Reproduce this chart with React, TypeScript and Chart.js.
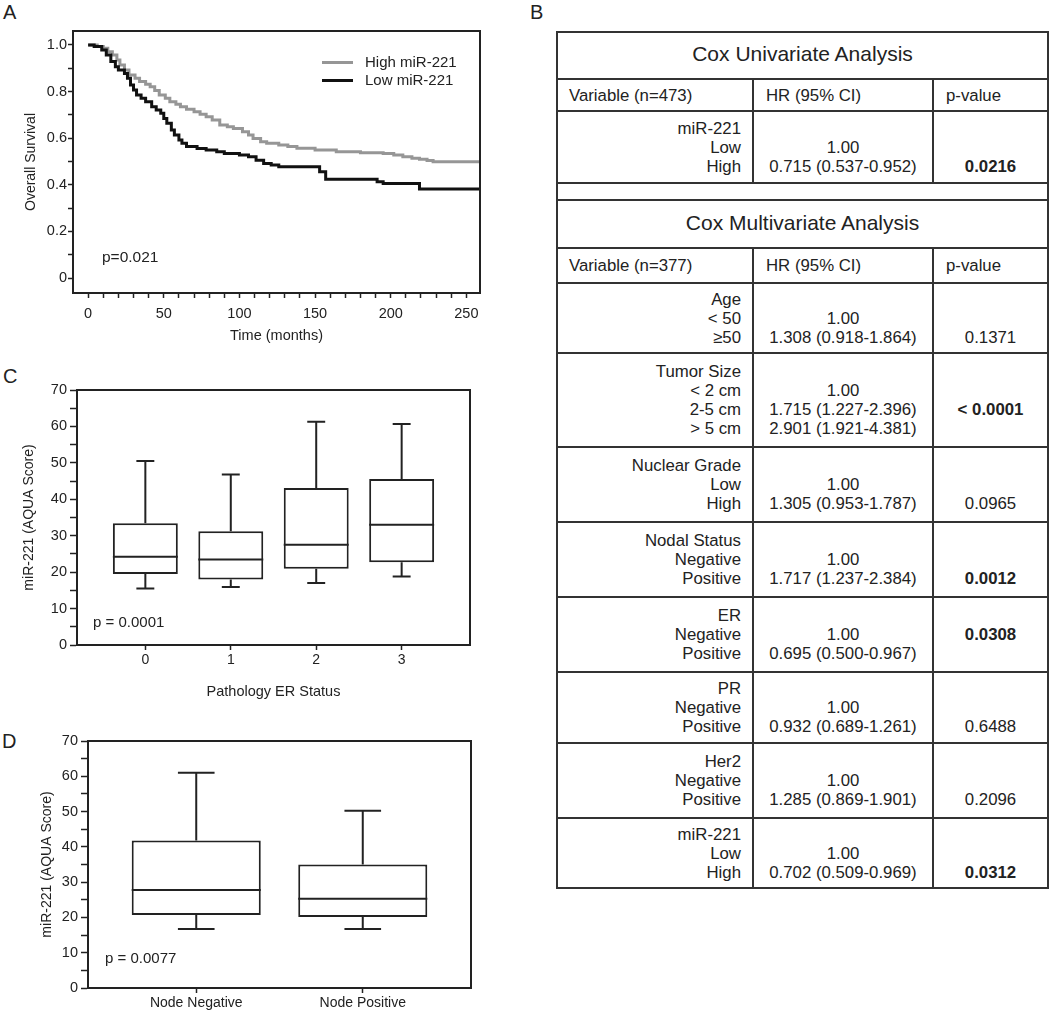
import React, { useEffect, useRef } from 'react';
import { Chart, registerables } from 'chart.js';
Chart.register(...registerables);

const FONT = '"Liberation Sans", Arial, Helvetica, sans-serif';
const INK = '#222';
Chart.defaults.font.family = FONT;

// ---------- Panel A: Kaplan-Meier ----------
const kmSeriesLabels = ['High miR-221', 'Low miR-221'];
const kmHighTime = [0, 6, 10, 13, 16, 19, 21, 24, 27, 31, 34, 38, 41, 44, 47, 51, 54, 58, 61, 65, 70, 74, 78, 82, 87, 92, 96, 102, 106, 109, 114, 118, 126, 132, 138, 150, 164, 180, 195, 202, 208, 214, 219, 224, 228, 259];
const kmHighSurvival = [1.0, 0.993, 0.986, 0.971, 0.957, 0.936, 0.914, 0.893, 0.871, 0.857, 0.843, 0.832, 0.821, 0.805, 0.785, 0.771, 0.757, 0.746, 0.735, 0.724, 0.714, 0.703, 0.692, 0.678, 0.657, 0.649, 0.642, 0.628, 0.614, 0.599, 0.585, 0.578, 0.571, 0.564, 0.557, 0.549, 0.542, 0.538, 0.535, 0.528, 0.521, 0.514, 0.51, 0.504, 0.499, 0.499];
const kmLowTime = [0, 4, 9, 12, 15, 18, 20, 24, 26, 28, 30, 32, 35, 38, 42, 45, 48, 50, 52, 55, 57, 60, 62, 65, 72, 78, 85, 90, 100, 106, 111, 116, 121, 126, 153, 157, 191, 195, 219, 259];
const kmLowSurvival = [1.0, 0.993, 0.979, 0.957, 0.929, 0.907, 0.893, 0.878, 0.857, 0.828, 0.807, 0.785, 0.771, 0.757, 0.735, 0.721, 0.707, 0.685, 0.664, 0.635, 0.614, 0.592, 0.578, 0.564, 0.556, 0.549, 0.542, 0.535, 0.528, 0.521, 0.506, 0.492, 0.485, 0.478, 0.456, 0.424, 0.413, 0.406, 0.382, 0.382];
const kmXTicks = [0, 10, 20, 30, 40, 50, 60, 70, 80, 90, 100, 110, 120, 130, 140, 150, 160, 170, 180, 190, 200, 210, 220, 230, 240, 250];
const kmYTicks = [0, 0.1, 0.2, 0.3, 0.4, 0.5, 0.6, 0.7, 0.8, 0.9, 1.0];
const kmPValue = 'p=0.021';

// ---------- Panel C: ER status box plot ----------
const erCategories = ['0', '1', '2', '3'];
const erWhiskerLow = [15.5, 15.9, 17.0, 18.8];
const erQ1 = [19.5, 18.0, 20.9, 22.7];
const erMedian = [24.2, 23.5, 27.5, 33.0];
const erQ3 = [33.4, 31.2, 43.1, 45.6];
const erWhiskerHigh = [50.5, 46.8, 61.3, 60.7];
const erPValue = 'p = 0.0001';

// ---------- Panel D: Node status box plot ----------
const nodeCategories = ['Node Negative', 'Node Positive'];
const nodeWhiskerLow = [16.7, 16.7];
const nodeQ1 = [20.7, 20.1];
const nodeMedian = [27.8, 25.3];
const nodeQ3 = [41.8, 35.0];
const nodeWhiskerHigh = [61.0, 50.2];
const nodePValue = 'p = 0.0077';
const boxYTicks = [0, 5, 10, 15, 20, 25, 30, 35, 40, 45, 50, 55, 60, 65, 70];

// ---------- Panel B: Cox tables ----------
const uniTitle = 'Cox Univariate Analysis';
const multiTitle = 'Cox Multivariate Analysis';
const uniHeader = ['Variable (n=473)', 'HR (95% CI)', 'p-value'];
const multiHeader = ['Variable (n=377)', 'HR (95% CI)', 'p-value'];
type CoxRow = { vars: string[]; hr: string[]; p: string; pLine: number; bold: boolean };
const uniRows: CoxRow[] = [
  { vars: ['miR-221', 'Low', 'High'], hr: ['', '1.00', '0.715 (0.537-0.952)'], p: '0.0216', pLine: 2, bold: true },
];
const multiRows: CoxRow[] = [
  { vars: ['Age', '< 50', '≥50'], hr: ['', '1.00', '1.308 (0.918-1.864)'], p: '0.1371', pLine: 2, bold: false },
  { vars: ['Tumor Size', '< 2 cm', '2-5 cm', '> 5 cm'], hr: ['', '1.00', '1.715 (1.227-2.396)', '2.901 (1.921-4.381)'], p: '< 0.0001', pLine: 2, bold: true },
  { vars: ['Nuclear Grade', 'Low', 'High'], hr: ['', '1.00', '1.305 (0.953-1.787)'], p: '0.0965', pLine: 2, bold: false },
  { vars: ['Nodal Status', 'Negative', 'Positive'], hr: ['', '1.00', '1.717 (1.237-2.384)'], p: '0.0012', pLine: 2, bold: true },
  { vars: ['ER', 'Negative', 'Positive'], hr: ['', '1.00', '0.695 (0.500-0.967)'], p: '0.0308', pLine: 1, bold: true },
  { vars: ['PR', 'Negative', 'Positive'], hr: ['', '1.00', '0.932 (0.689-1.261)'], p: '0.6488', pLine: 2, bold: false },
  { vars: ['Her2', 'Negative', 'Positive'], hr: ['', '1.00', '1.285 (0.869-1.901)'], p: '0.2096', pLine: 2, bold: false },
  { vars: ['miR-221', 'Low', 'High'], hr: ['', '1.00', '0.702 (0.509-0.969)'], p: '0.0312', pLine: 2, bold: true },
];

// layout (pixel positions of table rule lines)
const uniLines = [32, 79, 111, 183];
const spacerLines = [183, 200];
const multiLines = [200, 248, 283, 353, 447, 522, 597, 672, 743, 818, 888];

const framePlugin = {
  id: 'frame',
  afterDatasetsDraw(chart: any) {
    const { ctx, chartArea } = chart;
    ctx.save();
    ctx.strokeStyle = INK;
    ctx.lineWidth = 2;
    ctx.strokeRect(chartArea.left, chartArea.top, chartArea.right - chartArea.left, chartArea.bottom - chartArea.top);
    ctx.restore();
  },
};

function ChartCanvas({ make, left, top, width, height }: any) {
  const ref = useRef<HTMLCanvasElement>(null);
  useEffect(() => {
    const chart = new Chart(ref.current as HTMLCanvasElement, make());
    return () => chart.destroy();
  }, []);
  return (
    <canvas
      ref={ref}
      width={width}
      height={height}
      style={{ position: 'absolute', left, top, width, height }}
    />
  );
}

function kmConfig(): any {
  return {
    type: 'scatter',
    data: {
      datasets: [
        {
          label: kmSeriesLabels[1],
          data: kmLowTime.map((t, i) => ({ x: t, y: kmLowSurvival[i] })),
          showLine: true,
          stepped: 'before',
          borderColor: '#111',
          borderWidth: 3,
          pointRadius: 0,
        },
        {
          label: kmSeriesLabels[0],
          data: kmHighTime.map((t, i) => ({ x: t, y: kmHighSurvival[i] })),
          showLine: true,
          stepped: 'before',
          borderColor: '#969696',
          borderWidth: 3,
          pointRadius: 0,
        },
      ],
    },
    options: {
      responsive: false,
      animation: false,
      layout: { padding: { left: 0, top: 31, right: 20, bottom: 0 } },
      plugins: { legend: { display: false }, tooltip: { enabled: false } },
      scales: {
        x: {
          type: 'linear',
          min: -10,
          max: 259,
          afterBuildTicks: (s: any) => { s.ticks = kmXTicks.map((v) => ({ value: v })); },
          afterFit: (s: any) => { s.height = 57; },
          ticks: {
            autoSkip: false, maxRotation: 0, color: INK, padding: 7, font: { size: 14.5 },
            callback: (v: any) => (v % 50 === 0 ? String(v) : ''),
          },
          grid: { drawOnChartArea: false, tickLength: 5, tickColor: INK, tickWidth: 1.5 },
          border: { color: INK, width: 2 },
          title: { display: true, text: 'Time (months)', color: INK, font: { size: 14.5 }, padding: { top: 0, bottom: 5 } },
        },
        y: {
          type: 'linear',
          min: -0.064,
          max: 1.06,
          afterBuildTicks: (s: any) => { s.ticks = kmYTicks.map((v) => ({ value: v })); },
          afterFit: (s: any) => { s.width = 73; },
          ticks: {
            autoSkip: false, color: INK, padding: 1, font: { size: 14.5 },
            callback: (v: any) => {
              const k = Math.round(v * 10);
              if (k % 2 !== 0) return '';
              return k === 0 ? '0' : (k / 10).toFixed(1);
            },
          },
          grid: { drawOnChartArea: false, tickLength: 5, tickColor: INK, tickWidth: 1.5 },
          border: { color: INK, width: 2 },
          title: { display: true, text: 'Overall Survival', color: INK, font: { size: 14 }, padding: { top: 22.6, bottom: 0 } },
        },
      },
    },
    plugins: [framePlugin],
  };
}

function boxConfig(
  cats: string[], lo: number[], q1: number[], med: number[], q3: number[], hi: number[],
  o: { xMin: number; xMax: number; boxFrac: number; capHalf: number; padTop: number; padRight: number; yWidth: number; xHeight: number; yTitlePad: number; xTitle: string | null; xTitlePadBottom: number }
): any {
  const boxHalf = o.boxFrac / 2;
  const seg: any[] = [];
  cats.forEach((_, i) => {
    seg.push(
      { x: i, y: q3[i] }, { x: i, y: hi[i] }, { x: i, y: null },
      { x: i - o.capHalf, y: hi[i] }, { x: i + o.capHalf, y: hi[i] }, { x: i, y: null },
      { x: i, y: lo[i] }, { x: i, y: q1[i] }, { x: i, y: null },
      { x: i - o.capHalf, y: lo[i] }, { x: i + o.capHalf, y: lo[i] }, { x: i, y: null },
      { x: i - boxHalf, y: med[i] }, { x: i + boxHalf, y: med[i] }, { x: i, y: null }
    );
  });
  return {
    type: 'scatter',
    data: {
      datasets: [
        {
          type: 'scatter',
          label: 'whiskers',
          data: seg,
          showLine: true,
          spanGaps: false,
          borderColor: INK,
          borderWidth: 2,
          pointRadius: 0,
        },
        {
          type: 'bar',
          label: 'box',
          data: cats.map((_, i) => ({ x: i, y: [q1[i], q3[i]] })),
          backgroundColor: '#ffffff',
          borderColor: INK,
          borderWidth: 2,
          borderSkipped: false,
          categoryPercentage: 1,
          barPercentage: o.boxFrac,
        },
      ],
    },
    options: {
      responsive: false,
      animation: false,
      layout: { padding: { left: 0, top: o.padTop, right: o.padRight, bottom: 0 } },
      plugins: { legend: { display: false }, tooltip: { enabled: false } },
      scales: {
        x: {
          type: 'linear',
          min: o.xMin,
          max: o.xMax,
          offset: false,
          afterBuildTicks: (s: any) => { s.ticks = cats.map((_, i) => ({ value: i })); },
          afterFit: (s: any) => { s.height = o.xHeight; },
          ticks: {
            autoSkip: false, maxRotation: 0, color: INK, padding: 1.6, font: { size: 14 },
            callback: (v: any) => cats[Math.round(v)] ?? '',
          },
          grid: { offset: false, drawOnChartArea: false, tickLength: 5, tickColor: INK, tickWidth: 1.5 },
          border: { color: INK, width: 2 },
          title: o.xTitle
            ? { display: true, text: o.xTitle, color: INK, font: { size: 14.5 }, padding: { top: 0, bottom: o.xTitlePadBottom } }
            : { display: false },
        },
        y: {
          type: 'linear',
          min: 0,
          max: 70,
          beginAtZero: false,
          afterBuildTicks: (s: any) => { s.ticks = boxYTicks.map((v) => ({ value: v })); },
          afterFit: (s: any) => { s.width = o.yWidth; },
          ticks: {
            autoSkip: false, color: INK, padding: 3, font: { size: 14.5 },
            callback: (v: any) => (v % 10 === 0 ? String(v) : ''),
          },
          grid: { drawOnChartArea: false, tickLength: 7, tickColor: INK, tickWidth: 1.5 },
          border: { color: INK, width: 2 },
          title: { display: true, text: 'miR-221 (AQUA Score)', color: INK, font: { size: 14 }, padding: { top: o.yTitlePad, bottom: 0 } },
        },
      },
    },
    plugins: [framePlugin],
  };
}

const txt: React.CSSProperties = { position: 'absolute', fontFamily: FONT, color: INK, whiteSpace: 'nowrap' };

function PanelLetter({ ch, left, top }: any) {
  return <div style={{ ...txt, left, top, fontSize: 20, lineHeight: '20px' }}>{ch}</div>;
}

const LINE_H = 19;
const BODY_FONT = 16.8;
const ROW_LEFT = 556;
const ROW_W = 493;
const CELLS = [
  { left: 0, width: 194 },
  { left: 194, width: 180 },
  { left: 374, width: 115 },
];

function RowBox({ y0, y1, children }: any) {
  return (
    <div
      style={{
        position: 'absolute', left: ROW_LEFT, top: y0 - 1, width: ROW_W, height: y1 - y0 + 2,
        border: '2px solid #333', boxSizing: 'border-box',
      }}
    >
      {children}
    </div>
  );
}

function Cell({ idx, children, style }: any) {
  const c = CELLS[idx];
  return (
    <div
      style={{
        position: 'absolute', top: 0, bottom: 0, left: c.left, width: c.width,
        borderLeft: idx > 0 ? '2px solid #333' : 'none', boxSizing: 'border-box',
        display: 'flex', flexDirection: 'column', justifyContent: 'center',
        fontFamily: FONT, fontSize: BODY_FONT, color: INK, ...style,
      }}
    >
      {children}
    </div>
  );
}

function TitleRow({ y0, y1, text }: any) {
  return (
    <RowBox y0={y0} y1={y1}>
      <div style={{ position: 'absolute', inset: 0, display: 'flex', alignItems: 'center', justifyContent: 'center', fontFamily: FONT, fontSize: 21, color: INK, paddingBottom: 3 }}>
        {text}
      </div>
    </RowBox>
  );
}

function HeaderRow({ y0, y1, cols }: any) {
  return (
    <RowBox y0={y0} y1={y1}>
      {cols.map((c: string, i: number) => (
        <Cell key={i} idx={i} style={{ paddingLeft: i === 0 ? 11 : 12 }}>
          <div style={{ lineHeight: LINE_H + 'px' }}>{c}</div>
        </Cell>
      ))}
    </RowBox>
  );
}

function DataRow({ y0, y1, row }: { y0: number; y1: number; row: CoxRow }) {
  const n = row.vars.length;
  const lines = (arr: string[], bold?: (i: number) => boolean) =>
    arr.map((s, i) => (
      <div key={i} style={{ height: LINE_H, lineHeight: LINE_H + 'px', fontWeight: bold && bold(i) ? 'bold' : 'normal' }}>
        {s || '\u00a0'}
      </div>
    ));
  const pArr = Array.from({ length: n }, (_, i) => (i === row.pLine ? row.p : ''));
  return (
    <RowBox y0={y0} y1={y1}>
      <Cell idx={0} style={{ textAlign: 'right', paddingRight: 11 }}>{lines(row.vars)}</Cell>
      <Cell idx={1} style={{ textAlign: 'center' }}>{lines(row.hr)}</Cell>
      <Cell idx={2} style={{ textAlign: 'center' }}>{lines(pArr, () => row.bold)}</Cell>
    </RowBox>
  );
}

export default function App() {
  return (
    <div style={{ position: 'absolute', left: 0, top: 0, width: 1050, height: 1013, background: '#fff', overflow: 'hidden' }}>
      {/* Panel A */}
      <PanelLetter ch="A" left={3} top={2} />
      <ChartCanvas make={kmConfig} left={0} top={0} width={500} height={350} />
      <div style={{ position: 'absolute', left: 322, top: 60.5, width: 31, height: 3, background: '#969696' }} />
      <div style={{ ...txt, left: 365, top: 52, fontSize: 15, lineHeight: '20px' }}>{kmSeriesLabels[0]}</div>
      <div style={{ position: 'absolute', left: 322, top: 78.5, width: 31, height: 3, background: '#111' }} />
      <div style={{ ...txt, left: 365, top: 70, fontSize: 15, lineHeight: '20px' }}>{kmSeriesLabels[1]}</div>
      <div style={{ ...txt, left: 102, top: 247, fontSize: 15.5, lineHeight: '20px' }}>{kmPValue}</div>

      {/* Panel C */}
      <PanelLetter ch="C" left={3} top={366} />
      <ChartCanvas
        make={() => boxConfig(erCategories, erWhiskerLow, erQ1, erMedian, erQ3, erWhiskerHigh, {
          xMin: -0.8, xMax: 3.8, boxFrac: 0.76, capHalf: 0.105, padTop: 30, padRight: 30,
          yWidth: 77, xHeight: 65, yTitlePad: 21, xTitle: 'Pathology ER Status', xTitlePadBottom: 9.6,
        })}
        left={0} top={360} width={500} height={350}
      />
      <div style={{ ...txt, left: 93, top: 612, fontSize: 15, lineHeight: '20px' }}>{erPValue}</div>

      {/* Panel D */}
      <PanelLetter ch="D" left={2} top={731} />
      <ChartCanvas
        make={() => boxConfig(nodeCategories, nodeWhiskerLow, nodeQ1, nodeMedian, nodeQ3, nodeWhiskerHigh, {
          xMin: -0.65, xMax: 1.65, boxFrac: 0.775, capHalf: 0.11, padTop: 21, padRight: 29,
          yWidth: 88, xHeight: 25, yTitlePad: 38.6, xTitle: null, xTitlePadBottom: 0,
        })}
        left={0} top={720} width={500} height={293}
      />
      <div style={{ ...txt, left: 105, top: 948, fontSize: 15, lineHeight: '20px' }}>{nodePValue}</div>

      {/* Panel B */}
      <PanelLetter ch="B" left={530} top={2} />
      <TitleRow y0={uniLines[0]} y1={uniLines[1]} text={uniTitle} />
      <HeaderRow y0={uniLines[1]} y1={uniLines[2]} cols={uniHeader} />
      {uniRows.map((r, i) => (
        <DataRow key={'u' + i} y0={uniLines[2 + i]} y1={uniLines[3 + i]} row={r} />
      ))}
      <RowBox y0={spacerLines[0]} y1={spacerLines[1]} />
      <TitleRow y0={multiLines[0]} y1={multiLines[1]} text={multiTitle} />
      <HeaderRow y0={multiLines[1]} y1={multiLines[2]} cols={multiHeader} />
      {multiRows.map((r, i) => (
        <DataRow key={'m' + i} y0={multiLines[2 + i]} y1={multiLines[3 + i]} row={r} />
      ))}
    </div>
  );
}
